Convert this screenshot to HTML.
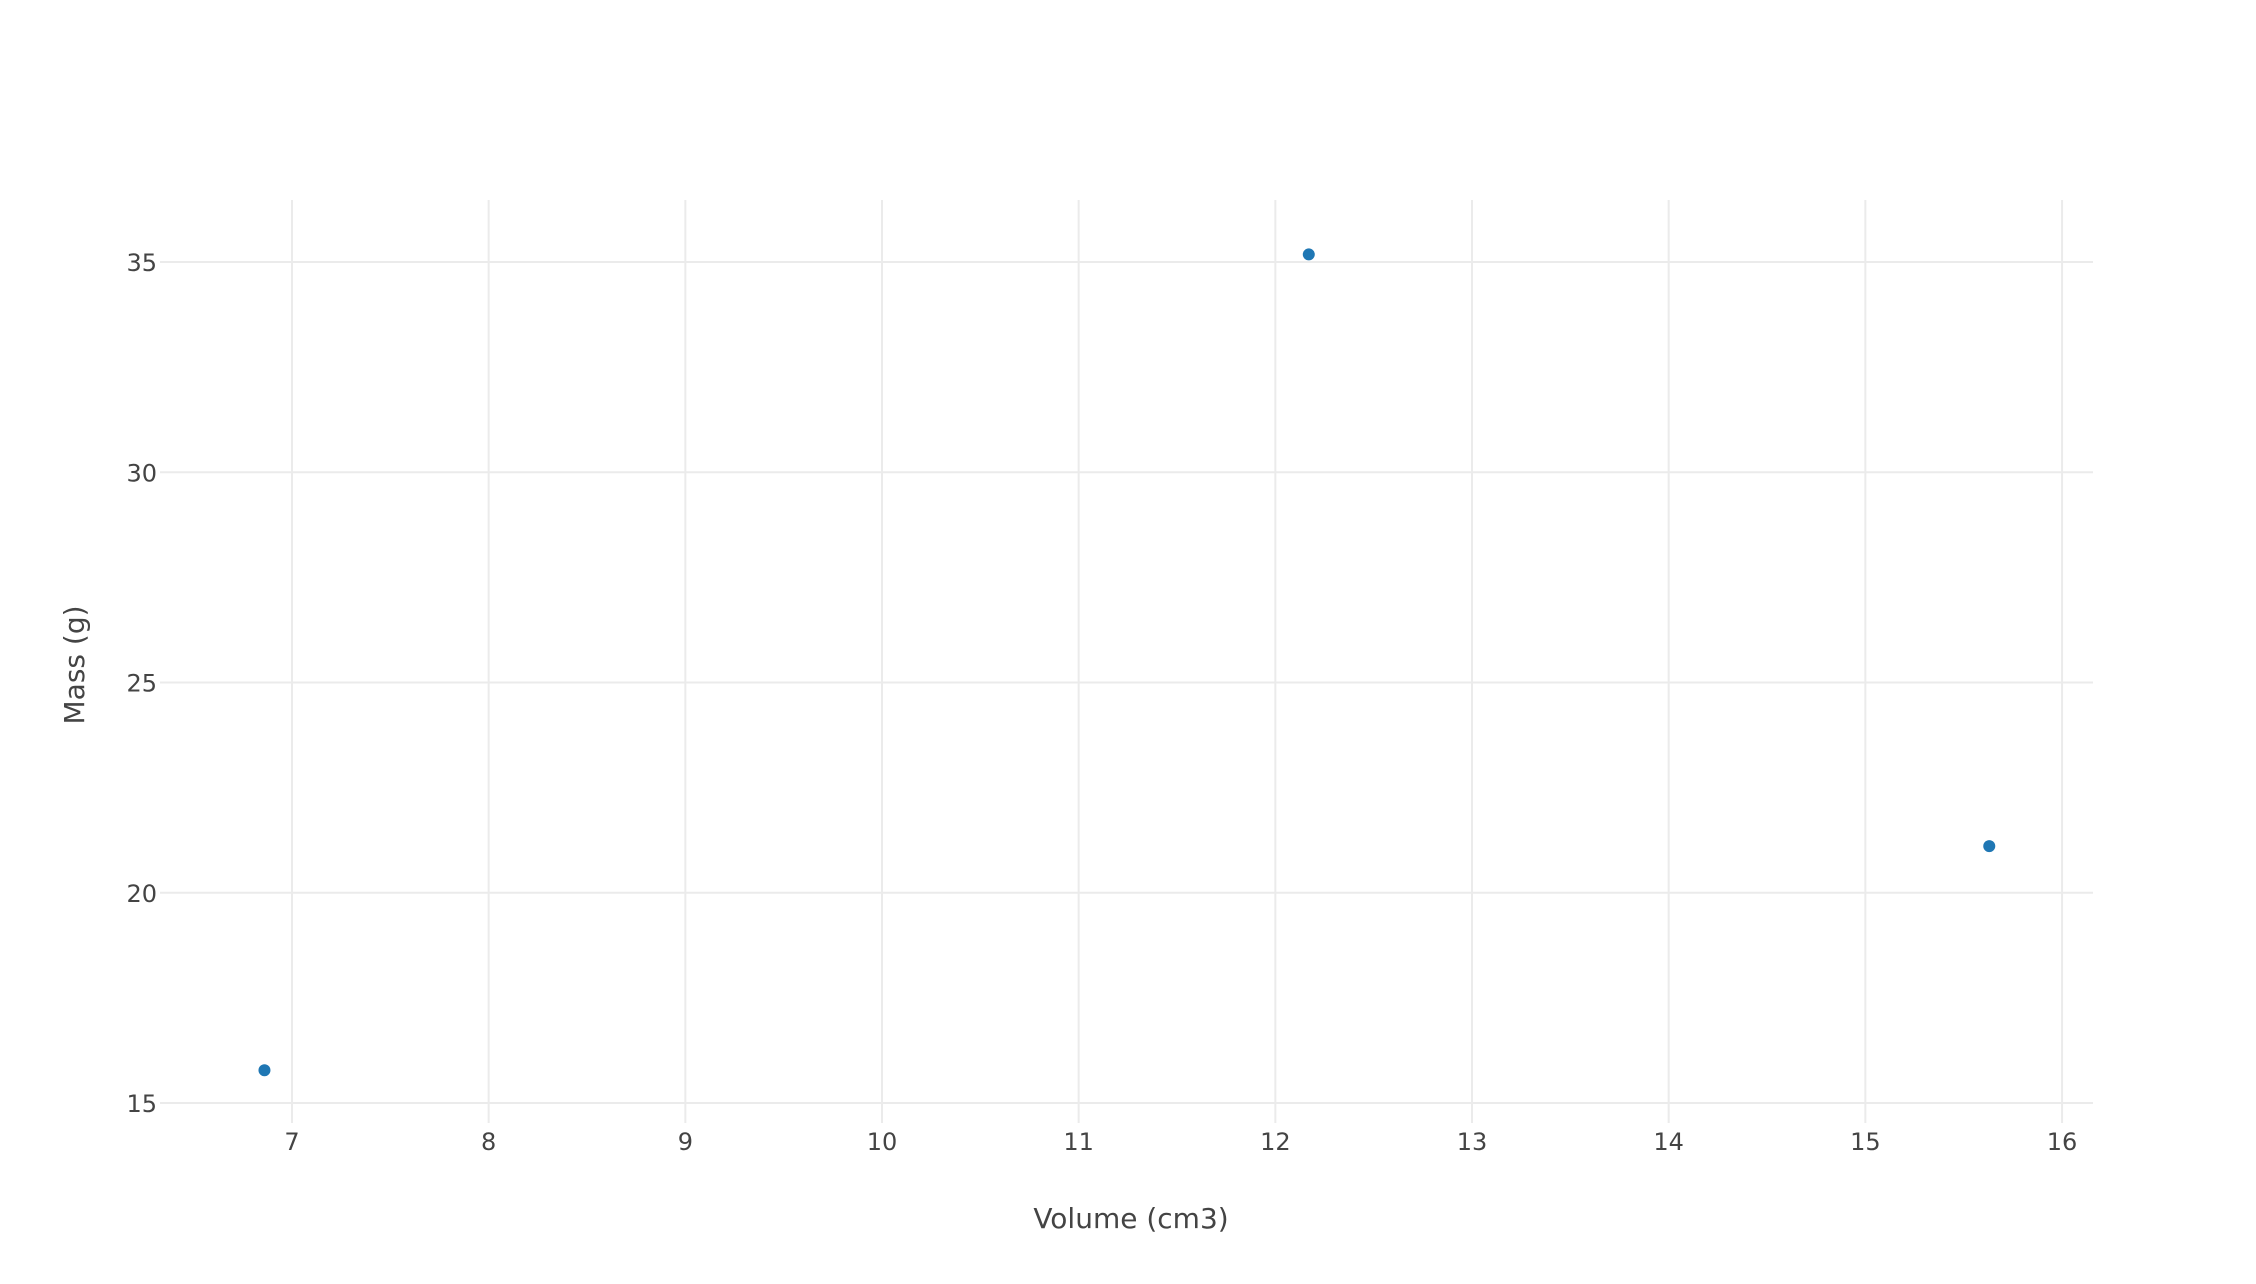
<!DOCTYPE html>
<html><head><meta charset="utf-8"><style>
html,body{margin:0;padding:0;background:#fff;}
svg{display:block;font-family:"DejaVu Sans","Liberation Sans",sans-serif;}
</style></head><body>
<svg id="chart" width="2256" height="1284" viewBox="0 0 2256 1284">
<g id="grid"></g>
<g id="ticks"></g>
<g id="points"></g>
<text x="1131" y="1228" text-anchor="middle" font-size="28" fill="#444">Volume (cm3)</text>
<text transform="translate(84,665) rotate(-90)" text-anchor="middle" font-size="28" fill="#444">Mass (g)</text>
</svg>
<script>
const volumes = [6.86, 12.17, 15.63];
const masses = [15.78, 35.18, 21.11];
const xTicks = [7, 8, 9, 10, 11, 12, 13, 14, 15, 16];
const yTicks = [15, 20, 25, 30, 35];

const NS = 'http://www.w3.org/2000/svg';
const X0 = 160, X1 = 2093, Y0 = 200, Y1 = 1123;
function sx(v){ return 292 + (v - 7) * 196.67; }
function sy(v){ return 1103 - (v - 15) * 42.05; }
function mk(tag, attrs, parent){
  const e = document.createElementNS(NS, tag);
  for (const k in attrs) e.setAttribute(k, attrs[k]);
  parent.appendChild(e);
  return e;
}
const grid = document.getElementById('grid');
const ticks = document.getElementById('ticks');
const pts = document.getElementById('points');
xTicks.forEach(t => {
  const l = mk('line', {x1:sx(t), x2:sx(t), y1:Y0, y2:Y1, stroke:'#ebebeb', 'stroke-width':2}, grid);
  
  
  const tx = mk('text', {x:sx(t), y:1150, 'text-anchor':'middle', 'font-size':24, fill:'#444'}, ticks);
  tx.textContent = t;
  
  
});
yTicks.forEach(t => {
  const l = mk('line', {x1:X0, x2:X1, y1:sy(t), y2:sy(t), stroke:'#ebebeb', 'stroke-width':2}, grid);
  
  
  const tx = mk('text', {x:157, y:sy(t)+9, 'text-anchor':'end', 'font-size':24, fill:'#444'}, ticks);
  tx.textContent = t;
  
  
});
volumes.forEach((v, i) => {
  const c = mk('circle', {cx:sx(v), cy:sy(masses[i]), r:6, fill:'#1f77b4'}, pts);
  
  
});
</script>
</body></html>
